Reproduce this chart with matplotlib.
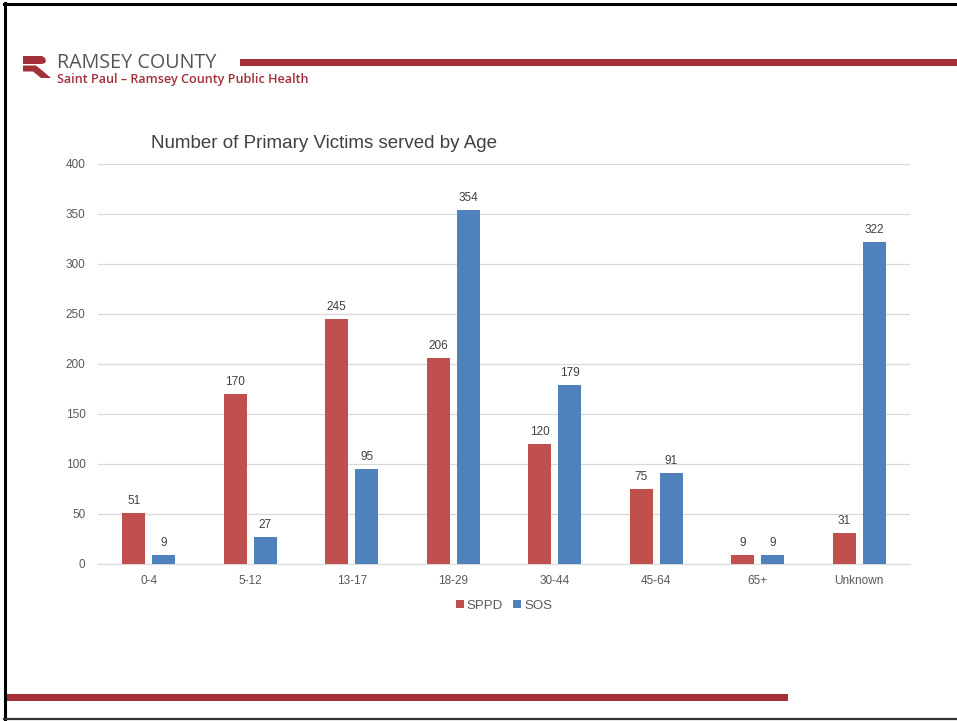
import numpy as np
import matplotlib
matplotlib.use('Agg')
import matplotlib.pyplot as plt
from matplotlib.patches import Polygon, Rectangle

plt.rcParams['font.family'] = ['Liberation Sans', 'DejaVu Sans']

# data
ages = ['0-4', '5-12', '13-17', '18-29', '30-44', '45-64', '65+', 'Unknown']
sppd = [51, 170, 245, 206, 120, 75, 9, 31]
sos = [9, 27, 95, 354, 179, 91, 9, 322]

red = '#C0504D'
blue = '#4F81BD'
brand = '#A4303A'

W, H = 957, 721
fig = plt.figure(figsize=(W / 100, H / 100), dpi=100)


def fx(px):
    return px / W


def fy(py):
    return 1 - py / H


# slide frame
fig.add_artist(plt.Line2D([fx(5), fx(5)], [fy(3), fy(719)], color='black', lw=2.2))
fig.add_artist(plt.Line2D([fx(4), fx(957)], [fy(4), fy(4)], color='black', lw=2.2))
fig.add_artist(plt.Line2D([fx(4), fx(957)], [fy(718.5), fy(718.5)], color='#333333', lw=1.6))

# header / footer bars
fig.add_artist(Rectangle((fx(240), fy(66)), fx(957) - fx(240), 7 / H, color=brand, lw=0))
fig.add_artist(Rectangle((fx(6), fy(701)), fx(788) - fx(6), 7 / H, color=brand, lw=0))

# logo mark (rough R)
top = [(23, 56), (42, 56), (45, 58), (46, 61), (45, 63), (42, 64), (23, 64)]
leg = [(23, 65.5), (36, 65.5), (44, 72), (51, 78), (41, 78), (33, 71.5), (23, 71.5)]
for pts in (top, leg):
    fig.add_artist(Polygon([(fx(x), fy(y)) for x, y in pts], closed=True,
                           color=brand, lw=0))

fig.text(fx(57), fy(67.5), 'RAMSEY COUNTY', fontsize=14.2, color='#555555',
         va='baseline', ha='left', family=['Open Sans', 'DejaVu Sans'])
fig.text(fx(57), fy(83.5), 'Saint Paul \u2013 Ramsey County Public Health', fontsize=9.1,
         color=brand, fontweight='semibold', va='baseline', ha='left',
         family=['Open Sans', 'DejaVu Sans'])

# chart
ax = fig.add_axes([fx(98), fy(564), fx(910) - fx(98), (564 - 164) / H])
x = np.arange(len(ages))
w = 0.227
b1 = ax.bar(x - w / 2 - 0.035, sppd, w, color=red, label='SPPD', zorder=3)
b2 = ax.bar(x + w / 2 + 0.035, sos, w, color=blue, label='SOS', zorder=3)
for bars, vals in ((b1, sppd), (b2, sos)):
    for r, v in zip(bars, vals):
        ax.text(r.get_x() + r.get_width() / 2, v + 6, str(v), ha='center',
                va='bottom', fontsize=8.5, color='#404040')

ax.set_xlim(-0.5, len(ages) - 0.5)
ax.set_ylim(0, 400)
ax.set_yticks(range(0, 401, 50))
ax.set_xticks(x)
ax.set_xticklabels(ages)
ax.grid(axis='y', color='#D9D9D9', lw=0.9, zorder=0)
for s in ['top', 'right', 'left']:
    ax.spines[s].set_visible(False)
ax.spines['bottom'].set_color('#D9D9D9')
ax.tick_params(axis='both', length=0, labelsize=8.5, colors='#595959')
ax.tick_params(axis='y', pad=9)
ax.tick_params(axis='x', pad=8)

fig.text(fx(151), fy(144), 'Number of Primary Victims served by Age', fontsize=13.5,
         color='#404040', va='center', ha='left')

ax.legend(loc='upper center', bbox_to_anchor=(0.5, -0.06), ncol=2, frameon=False,
          fontsize=9.5, handlelength=0.6, handleheight=0.6, handletextpad=0.2,
          columnspacing=0.8, labelcolor='#595959')

fig.savefig('out.png', dpi=100)
